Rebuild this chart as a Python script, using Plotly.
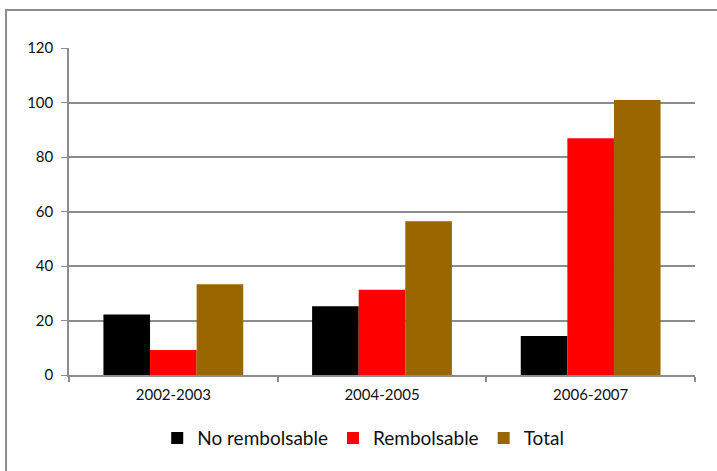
import plotly.graph_objects as go

# Data
periods = ["2002-2003", "2004-2005", "2006-2007"]
no_rembolsable = [22.2, 25.2, 14.3]
rembolsable = [9.2, 31.3, 86.9]
total = [33.3, 56.4, 100.9]

GRID = "#8c8c8c"
FONT = "Lato, Calibri, sans-serif"

fig = go.Figure()
fig.add_trace(go.Bar(x=periods, y=no_rembolsable, name="No rembolsable", marker_color="#000000"))
fig.add_trace(go.Bar(x=periods, y=rembolsable, name="Rembolsable", marker_color="#FF0000"))
fig.add_trace(go.Bar(x=periods, y=total, name="Total", marker_color="#996600"))
fig.update_traces(marker_line_width=0)

fig.update_layout(
    width=717, height=471,
    margin=dict(l=69, r=22, t=48, b=96),
    plot_bgcolor="white", paper_bgcolor="white",
    font=dict(family=FONT, size=15, color="#111"),
    barmode="group", bargap=0.33, bargroupgap=0,
    showlegend=True,
    legend=dict(orientation="h", x=0.47, xanchor="center", y=-0.193, yanchor="middle",
                font=dict(size=19), itemwidth=30, traceorder="normal"),
    xaxis=dict(showline=True, linecolor=GRID, linewidth=2, ticks="outside", tickson="boundaries",
               ticklen=5, tickcolor=GRID, tickwidth=2, showgrid=False, ticklabelstandoff=5),
    yaxis=dict(range=[0, 120], dtick=20, showline=True, linecolor=GRID, linewidth=1.5,
               ticks="outside", ticklen=6, tickcolor=GRID, gridcolor=GRID, gridwidth=1.5,
               zeroline=False, ticklabelstandoff=5),
)

# chart border (only top and left edges visible in the crop)
fig.add_shape(type="path", xref="paper", yref="paper",
              path="M -0.1006,-0.4 L -0.1006,1.1162 L 1.2,1.1162",
              line=dict(color="#8c8c8c", width=2))

# drop the default body margin so the figure sits at the window origin
fig.write_html("out.html", config={"displayModeBar": False},
               post_script="document.body.style.margin='0';")
